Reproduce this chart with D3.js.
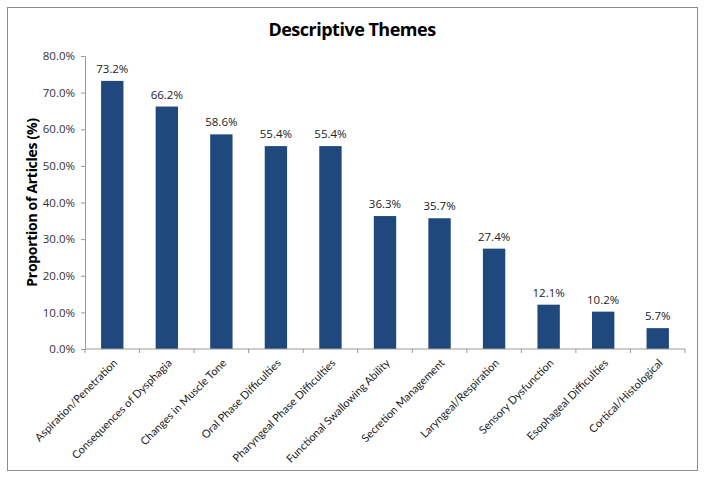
<!DOCTYPE html>
<html>
<head>
<meta charset="utf-8">
<script src="https://cdn.jsdelivr.net/npm/d3@7"></script>
<style>
body { margin: 0; background: #fff; }
</style>
</head>
<body>
<div id="chart"></div>
<script>

var categories = ["Aspiration/Penetration", "Consequences of Dysphagia", "Changes in Muscle Tone",
    "Oral Phase Difficulties", "Pharyngeal Phase Difficulties", "Functional Swallowing Ability",
    "Secretion Management", "Laryngeal/Respiration", "Sensory Dysfunction",
    "Esophageal Difficulties", "Cortical/Histological"];
var values = [73.2, 66.2, 58.6, 55.4, 55.4, 36.3, 35.7, 27.4, 12.1, 10.2, 5.7];
var yTicks = [0, 10, 20, 30, 40, 50, 60, 70, 80];

var W = 704, H = 478;
var margin = { top: 56, right: 19, bottom: 129, left: 85 },
    width = W - margin.left - margin.right,
    height = H - margin.top - margin.bottom;

var font = '"Open Sans", sans-serif';
var labelFont = 'Lato, sans-serif';

var svg = d3.select("#chart")
    .append("svg")
    .attr("width", W)
    .attr("height", H);

// outer frame
svg.append("rect")
    .attr("x", 7.5).attr("y", 7.5)
    .attr("width", 690).attr("height", 463)
    .attr("fill", "#fff")
    .attr("stroke", "#8c8c8c")
    .attr("stroke-width", 1);

// title
svg.append("text")
    .attr("x", 352)
    .attr("y", 36)
    .attr("text-anchor", "middle")
    .style("font-family", font)
    .style("font-size", "18px")
    .style("font-weight", "700")
    .style("letter-spacing", "-0.5px")
    .text("Descriptive Themes");

var g = svg.append("g")
    .attr("transform", "translate(" + margin.left + "," + margin.top + ")");

var x = d3.scaleBand().domain(categories).range([0, width]).paddingInner(0.59).paddingOuter(0.295);
var y = d3.scaleLinear().domain([0, 80]).range([height, 0]);

// bars
g.selectAll(".bar")
    .data(values)
    .enter().append("rect")
    .attr("class", "bar")
    .attr("x", function(d, i) { return x(categories[i]); })
    .attr("y", function(d) { return y(d); })
    .attr("width", x.bandwidth())
    .attr("height", function(d) { return height - y(d); })
    .attr("fill", "#1F497D");

// value labels
g.selectAll(".val")
    .data(values)
    .enter().append("text")
    .attr("class", "val")
    .attr("x", function(d, i) { return x(categories[i]) + x.bandwidth() / 2; })
    .attr("y", function(d) { return y(d) - 8; })
    .attr("text-anchor", "middle")
    .style("font-family", font)
    .style("font-size", "11.5px")
    .style("fill", "#222")
    .text(function(d) { return d.toFixed(1) + "%"; });

// y axis
var yAxis = g.append("g")
    .call(d3.axisLeft(y).tickValues(yTicks).tickSize(4).tickPadding(6)
        .tickFormat(function(d) { return d.toFixed(1) + "%"; }));
yAxis.select(".domain").attr("stroke", "#999");
yAxis.selectAll(".tick line").attr("stroke", "#999");
yAxis.selectAll("text")
    .style("font-family", font)
    .style("font-size", "11.5px")
    .style("fill", "#333");

// x axis: ticks between categories
var step = x.step();
var xg = g.append("g").attr("transform", "translate(0," + height + ")");
xg.append("line")
    .attr("x1", 0).attr("x2", width)
    .attr("stroke", "#999");
xg.selectAll(".sep")
    .data(d3.range(categories.length + 1))
    .enter().append("line")
    .attr("x1", function(i) { return i * step; })
    .attr("x2", function(i) { return i * step; })
    .attr("y1", 0).attr("y2", 4)
    .attr("stroke", "#999");

xg.selectAll(".lab")
    .data(categories)
    .enter().append("text")
    .attr("transform", function(d) {
        return "translate(" + (x(d) + x.bandwidth() / 2 + 3) + ",12) rotate(-45)";
    })
    .attr("text-anchor", "end")
    .attr("dy", "0.35em")
    .style("font-family", labelFont)
    .style("font-size", "11px")
    .style("fill", "#222")
    .text(function(d) { return d; });

// y label
svg.append("text")
    .attr("transform", "translate(32," + (margin.top + height / 2) + ") rotate(-90)")
    .attr("text-anchor", "middle")
    .attr("dy", "0.35em")
    .style("font-family", font)
    .style("font-size", "14px")
    .style("font-weight", "700")
    .style("letter-spacing", "-0.3px")
    .text("Proportion of Articles (%)");

</script>
</body>
</html>
